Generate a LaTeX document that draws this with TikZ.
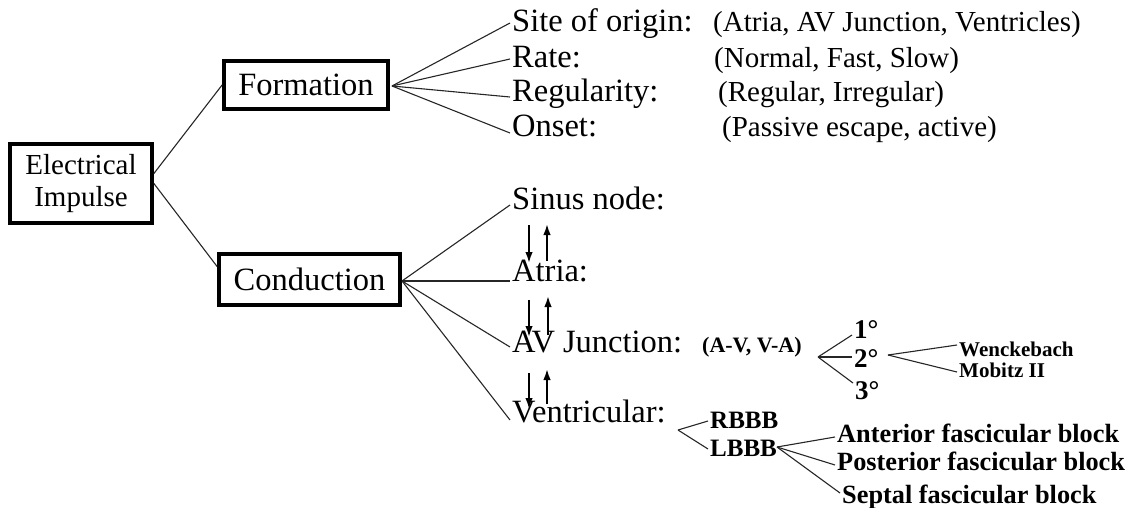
\documentclass[tikz,border=0pt]{standalone}
\usepackage{fontspec}
\setmainfont{Liberation Serif}
\usetikzlibrary{arrows.meta,calc}
\begin{document}
\begin{tikzpicture}[x=1pt,y=-1pt,
  box/.style={draw, line width=3.8pt, inner sep=0pt, align=center},
  lbl/.style={anchor=base west, inner xsep=2pt, inner ysep=0pt,
    font=\fontsize{32.5}{36}\selectfont},
  par/.style={anchor=base west, inner sep=0pt, font=\fontsize{29}{32}\selectfont},
  deg/.style={anchor=base west, inner xsep=2pt, inner ysep=0pt,
    font=\bfseries\fontsize{27}{30}\selectfont},
  sub/.style={anchor=base west, inner xsep=2pt, inner ysep=0pt,
    font=\bfseries\fontsize{25}{28}\selectfont},
  fasc/.style={anchor=base west, inner xsep=2pt, inner ysep=0pt,
    font=\bfseries\fontsize{26.3}{29}\selectfont},
  subs/.style={anchor=base west, inner xsep=2pt, inner ysep=0pt,
    font=\bfseries\fontsize{21}{24}\selectfont},
  conn/.style={line width=1.1pt, black!85},
  updown/.style={line width=1.8pt, -{Latex[length=11pt,width=7.5pt]}}]
\useasboundingbox (0,0) rectangle (1132,508);

% boxes
\node[box, minimum width=142pt, minimum height=79pt,
  font=\fontsize{29}{32}\selectfont] (elec) at (81,183.5) {Electrical\\Impulse};
\node[box, minimum width=164pt, minimum height=48pt,
  font=\fontsize{32.5}{36}\selectfont] (form) at (306,85) {Formation};
\node[box, minimum width=181pt, minimum height=51pt,
  font=\fontsize{32.5}{36}\selectfont] (cond) at (309.5,279.5) {Conduction};

% formation branch
\node[lbl] (site) at (510,32) {Site of origin:};
\node[lbl] (rate) at (510,68) {Rate:};
\node[lbl] (reg) at (510,102) {Regularity:};
\node[lbl] (ons) at (510,137) {Onset:};
\node[par] (sitep) at (713,32) {(Atria, AV Junction, Ventricles)};
\node[par] (ratep) at (714,68) {(Normal, Fast, Slow)};
\node[par] (regp) at (718,102) {(Regular, Irregular)};
\node[par] (onsp) at (722,137) {(Passive escape, active)};

% conduction branch
\node[lbl] (sin) at (510,209) {Sinus node:};
\node[lbl] (atr) at (510,281) {Atria:};
\node[lbl] (avj) at (510,352) {AV Junction:};
\node[lbl] (ven) at (510,422) {Ventricular:};
\node[anchor=base west, inner sep=0pt, font=\bfseries\fontsize{22}{24}\selectfont]
  (avp) at (702,352) {(A-V, V-A)};

\node[deg] (d1) at (852,338) {1°};
\node[deg] (d2) at (852,367) {2°};
\node[deg] (d3) at (853,399) {3°};
\node[subs] (wen) at (957,356) {Wenckebach};
\node[subs] (mob) at (957,377) {Mobitz II};

\node[sub] (rbbb) at (708,428) {RBBB};
\node[sub] (lbbb) at (708,456) {LBBB};
\node[fasc] (ant) at (835,442) {Anterior fascicular block};
\node[fasc] (post) at (835,470) {Posterior fascicular block};
\node[fasc] (sept) at (840,503) {Septal fascicular block};

% fan origins
\coordinate (fform) at (392,86);
\coordinate (fcond) at (402,281);
\coordinate (fav) at (818,357);
\coordinate (fd2) at (888,355);
\coordinate (fven) at (678,430);
\coordinate (flbbb) at (777,447);

% connectors
\draw[conn] ([yshift=10pt]elec.east) -- (form.west);
\draw[conn] (elec.east) -- ([yshift=13pt]cond.west);
\draw[conn] (fform) -- ([yshift=9pt]site.base west);
\draw[conn] (fform) -- ([yshift=9pt]rate.base west);
\draw[conn] (fform) -- ([yshift=5pt]reg.base west);
\draw[conn] (fform) -- ([yshift=4pt]ons.base west);
\draw[conn] (fcond) -- ([yshift=4pt]sin.base west);
\draw[conn] (fcond) -- ([yshift=0pt]atr.base west);
\draw[conn] (fcond) -- ([yshift=5pt]avj.base west);
\draw[conn] (fcond) -- ([yshift=2pt]ven.base west);
\draw[conn] (fav) -- ([yshift=3pt]d1.base west);
\draw[conn] (fav) -- ([yshift=10pt]d2.base west);
\draw[conn] (fav) -- ([yshift=16pt]d3.base west);
\draw[conn] (fd2) -- ([yshift=11pt]wen.base west);
\draw[conn] (fd2) -- ([yshift=5pt]mob.base west);
\draw[conn] (fven) -- ([yshift=7pt]rbbb.base west);
\draw[conn] (fven) -- ([yshift=7pt]lbbb.base west);
\draw[conn] (flbbb) -- ([yshift=5pt]ant.base west);
\draw[conn] (flbbb) -- ([yshift=5pt]post.base west);
\draw[conn] (flbbb) -- ([yshift=10pt]sept.base west);

% up/down arrows
\draw[updown] (529,225) -- (529,263);
\draw[updown] (547,261) -- (547,224);
\draw[updown] (529,300) -- (529,337);
\draw[updown] (548,335) -- (548,296);
\draw[updown] (529,373) -- (529,409);
\draw[updown] (547,404) -- (547,369);
\end{tikzpicture}
\end{document}
